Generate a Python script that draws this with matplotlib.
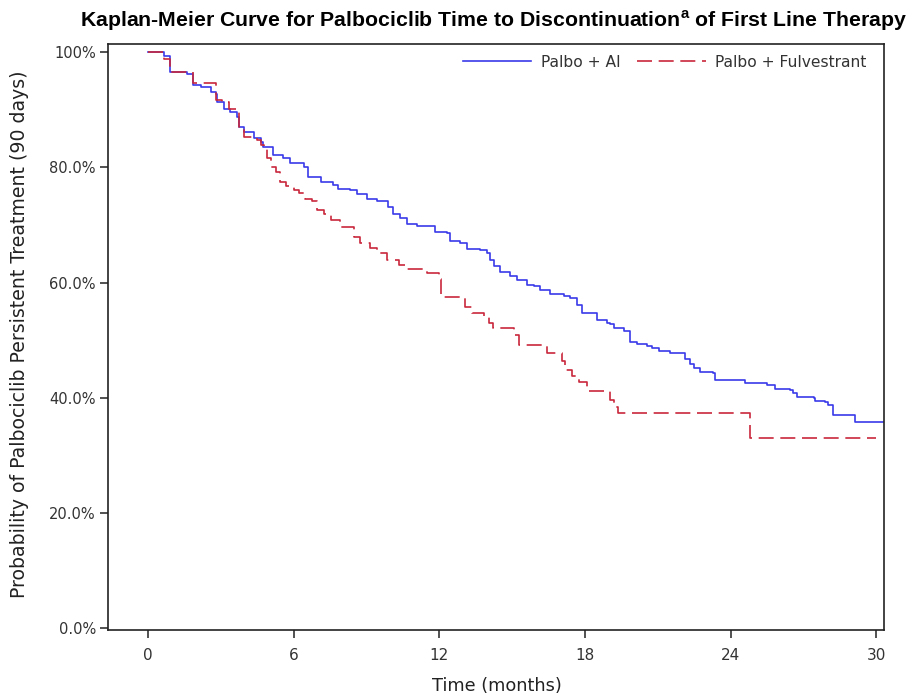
import matplotlib
matplotlib.use("Agg")
import matplotlib.pyplot as plt

plt.rcParams['font.family'] = ['DejaVu Sans']
plt.rcParams['mathtext.fontset'] = 'custom'
plt.rcParams['mathtext.bf'] = 'Liberation Sans:bold'
plt.rcParams['mathtext.rm'] = 'Liberation Sans:bold'

# ---- data ----
ai_times = [0.0, 0.65, 0.93, 1.62, 1.87, 2.20, 2.58, 2.79, 2.86, 3.12, 3.40, 3.68, 3.74, 3.94,
            4.35, 4.64, 4.76, 5.17, 5.58, 5.87, 6.41, 6.61, 7.11, 7.64, 7.81, 8.34, 8.63,
            9.04, 9.45, 9.87, 10.11, 10.40, 10.67, 11.09, 11.84, 12.32, 12.46, 12.87, 13.14,
            13.69, 13.97, 14.10, 14.24, 14.51, 14.93, 15.20, 15.61, 15.88, 16.16, 16.57,
            17.12, 17.40, 17.67, 17.88, 18.29, 18.49, 18.91, 19.04, 19.18, 19.59, 19.86,
            20.14, 20.55, 20.76, 21.03, 21.51, 21.92, 22.13, 22.33, 22.47, 22.74, 23.29,
            23.36, 24.60, 25.49, 25.83, 26.45, 26.58, 26.72, 27.41, 27.48, 27.89, 28.02,
            28.23, 29.12, 30.28]
ai_surv = [100.0, 99.4, 96.5, 96.2, 94.3, 93.9, 93.1, 92.8, 91.3, 90.2, 89.6, 88.8, 87.1, 86.2,
           85.1, 84.5, 83.6, 82.2, 81.6, 80.7, 80.0, 78.4, 77.4, 76.9, 76.2, 76.1, 75.4,
           74.6, 74.1, 73.2, 72.0, 71.2, 70.2, 69.8, 68.8, 68.6, 67.2, 66.8, 65.9,
           65.7, 65.2, 63.9, 62.9, 61.9, 61.1, 60.4, 59.6, 59.4, 58.7, 58.1,
           57.7, 57.3, 56.1, 54.8, 54.7, 53.5, 53.0, 52.8, 52.1, 51.6, 49.7,
           49.3, 49.0, 48.6, 48.2, 47.8, 47.7, 46.8, 45.9, 45.1, 44.5, 44.3,
           43.1, 42.6, 42.2, 41.6, 41.4, 40.8, 40.1, 39.9, 39.5, 39.3, 38.7,
           37.0, 35.7, 35.7]

fulv_times = [0.0, 0.66, 0.92, 1.87, 2.79, 3.06, 3.33, 3.68, 3.74, 3.95, 4.50, 4.64, 4.77,
              4.91, 5.05, 5.26, 5.46, 5.67, 6.01, 6.21, 6.49, 6.77, 6.97, 7.24, 7.52, 7.93,
              8.48, 8.75, 9.16, 9.44, 9.85, 10.33, 10.67, 11.50, 11.98, 12.05, 13.07, 13.35,
              13.83, 14.03, 14.20, 15.06, 15.27, 16.44, 17.05, 17.19, 17.47, 17.74, 18.08,
              19.04, 19.18, 19.34, 24.80, 30.0]
fulv_surv = [100.0, 98.9, 96.5, 94.6, 91.7, 91.4, 90.2, 89.7, 87.1, 85.3, 84.8, 83.9, 83.3,
             81.6, 80.1, 79.3, 77.5, 76.7, 76.1, 75.5, 74.6, 74.1, 72.6, 72.0, 70.9, 69.7,
             68.0, 66.8, 66.0, 65.1, 63.9, 63.1, 62.3, 61.6, 60.7, 57.5, 55.8, 54.7,
             54.0, 52.9, 52.1, 50.9, 49.2, 47.7, 46.3, 44.8, 43.7, 42.8, 41.1,
             39.6, 38.4, 37.3, 33.0, 33.0]

series_names = ["Palbo + AI", "Palbo + Fulvestrant"]
x_ticks = [0, 6, 12, 18, 24, 30]
y_ticks = [0, 20, 40, 60, 80, 100]
y_tick_labels = ["0.0%", "20.0%", "40.0%", "60.0%", "80.0%", "100%"]

blue = "#3a3aea"
red = "#c8283c"

fig = plt.figure(figsize=(9.06, 6.95), dpi=100)
ax = fig.add_axes([108.3/906, 1-630/695, (883.7-108.3)/906, (630-44)/695])

ax.step(ai_times, ai_surv, where='post', color=blue, lw=1.2, label=series_names[0])
ax.step(fulv_times, fulv_surv, where='post', color=red, lw=1.2,
        linestyle=(0, (9, 4)), label=series_names[1])

ax.set_xlim(-1.63, 30.3)
ax.set_ylim(-0.35, 101.45)
ax.set_xticks(x_ticks)
ax.set_xticklabels([str(t) for t in x_ticks])
ax.set_yticks(y_ticks)
ax.set_yticklabels(y_tick_labels)
ax.tick_params(axis='both', direction='out', length=6, width=1.1, colors='#222222',
               labelcolor='#333333')
ax.tick_params(axis='x', labelsize=11, pad=7)
ax.tick_params(axis='y', labelsize=10.5, pad=3)
for s in ax.spines.values():
    s.set_linewidth(1.2)
    s.set_color('#222222')

leg = ax.legend(loc='upper right', ncol=2, frameon=False, fontsize=11.2,
                handlelength=4.4, handletextpad=0.6, columnspacing=1.1,
                borderaxespad=0.3, bbox_to_anchor=(0.992, 1.0))
for t in leg.get_texts():
    t.set_color('#333333')

fig.text(493/906, 1-21/695,
         r"Kaplan-Meier Curve for Palbociclib Time to Discontinuation$^{\mathbf{a}}$ of First Line Therapy",
         ha='center', va='center', fontsize=15.3, fontweight='bold',
         family='Liberation Sans', color='black')
fig.text(20/906, 1-334/695, "Probability of Palbociclib Persistent Treatment (90 days)",
         rotation=90, ha='center', va='center', fontsize=13.6, color='#222222')
fig.text(497/906, 1-686/695, "Time (months)", ha='center', va='center',
         fontsize=12.8, color='#222222')

fig.savefig("out.png", dpi=100)
